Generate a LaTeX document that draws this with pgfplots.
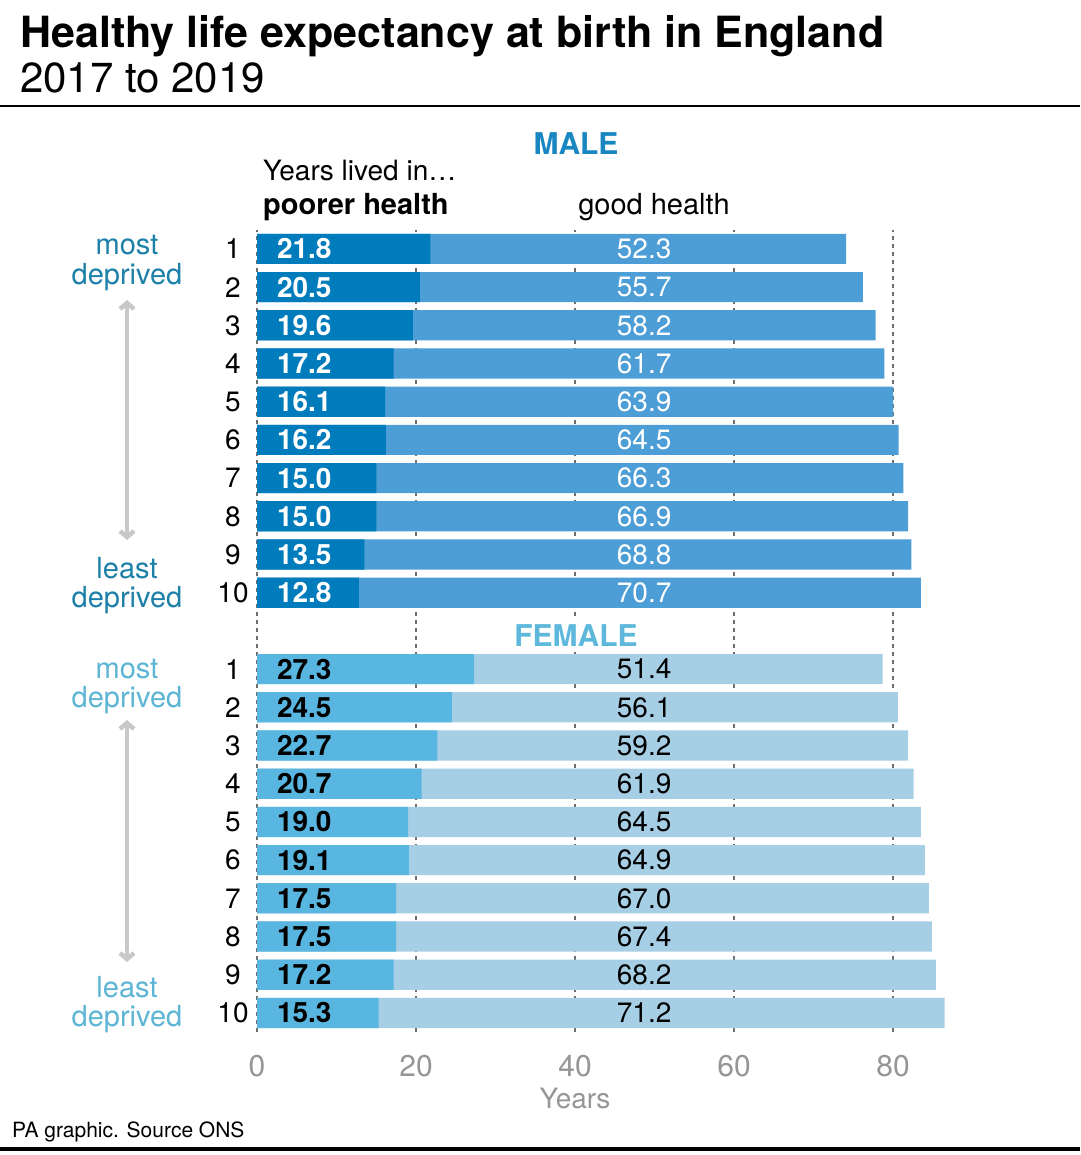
\documentclass[border=0pt]{standalone}
\usepackage{fontspec}
\setmainfont{TeX Gyre Heros}
\usepackage{pgfplots}
\pgfplotsset{compat=1.18}
\usepackage{pgfplotstable}
\usetikzlibrary{arrows.meta}

\definecolor{malepoor}{RGB}{0,123,187}
\definecolor{malegood}{RGB}{77,158,215}
\definecolor{fempoor}{RGB}{88,182,224}
\definecolor{femgood}{RGB}{166,207,230}
\definecolor{maletxt}{RGB}{28,128,168}
\definecolor{femtxt}{RGB}{92,181,213}
\definecolor{malehead}{RGB}{24,134,192}
\definecolor{femhead}{RGB}{93,184,220}
\definecolor{gridgrey}{RGB}{110,110,110}
\definecolor{ticktxt}{RGB}{150,150,150}
\definecolor{arrowgrey}{RGB}{200,200,200}

% rank 1 = most deprived
\pgfplotstableread{
rank poor good
1 21.8 52.3
2 20.5 55.7
3 19.6 58.2
4 17.2 61.7
5 16.1 63.9
6 16.2 64.5
7 15.0 66.3
8 15.0 66.9
9 13.5 68.8
10 12.8 70.7
}\male
\pgfplotstableread{
rank poor good
1 27.3 51.4
2 24.5 56.1
3 22.7 59.2
4 20.7 61.9
5 19.0 64.5
6 19.1 64.9
7 17.5 67.0
8 17.5 67.4
9 17.2 68.2
10 15.3 71.2
}\female

\newcommand\fs[1]{\fontsize{#1}{#1}\selectfont}

\begin{document}
\begin{tikzpicture}[x=1pt,y=1pt]
\useasboundingbox (0,0) rectangle (1080,-1155);
\fill[white] (0,0) rectangle (1080,-1155);

\node[anchor=base west, inner sep=0] at (20,-48) {\fs{43}\bfseries Healthy life expectancy at birth in England};
\node[anchor=base west, inner sep=0] at (20,-93) {\fs{42}2017 to 2019};
\draw[line width=2.5pt] (0,-106) -- (1080,-106);

\begin{axis}[
  at={(257pt,-1032pt)}, anchor=south west,
  scale only axis, width=715.5pt, height=802.2pt,
  xmin=0, xmax=90, ymin=0.5, ymax=21.5,
  axis line style={draw=none}, major tick length=0pt,
  xtick={0,20,...,80}, xmajorgrids,
  grid style={gridgrey, line width=1.2pt, dash pattern=on 4pt off 4pt},
  ytick={1,2,3,4,5,6,7,8,9,10,12,13,14,15,16,17,18,19,20,21},
  yticklabels={10,9,8,7,6,5,4,3,2,1,10,9,8,7,6,5,4,3,2,1},
  /pgf/number format/assume math mode=true,
  xticklabel style={font=\fs{30}, text=ticktxt, yshift=-20pt},
  yticklabel style={font=\fs{28}, text=black, anchor=center, xshift=-24pt},
  xlabel={Years}, xlabel style={font=\fs{28}, text=ticktxt, yshift=-4pt, xshift=-39.75pt},
  clip=false,
]
% male
\addplot[xbar, bar shift=0pt, bar width=0.79, fill=malegood, draw=none]
  table[x expr=\thisrow{poor}+\thisrow{good}, y expr=22-\thisrow{rank}] {\male};
\addplot[xbar, bar shift=0pt, bar width=0.79, fill=malepoor, draw=none]
  table[x=poor, y expr=22-\thisrow{rank}] {\male};
\addplot[only marks, mark=none, point meta=explicit symbolic, nodes near coords,
  every node near coord/.append style={anchor=west, inner sep=0pt, font=\fs{28}\bfseries, text=white}]
  table[x expr=2.5, y expr=22-\thisrow{rank}, meta=poor] {\male};
\addplot[only marks, mark=none, point meta=explicit symbolic, nodes near coords,
  every node near coord/.append style={anchor=center, inner sep=0pt, font=\fs{28}, text=white}]
  table[x expr=48.7, y expr=22-\thisrow{rank}, meta=good] {\male};
% female
\addplot[xbar, bar shift=0pt, bar width=0.79, fill=femgood, draw=none]
  table[x expr=\thisrow{poor}+\thisrow{good}, y expr=11-\thisrow{rank}] {\female};
\addplot[xbar, bar shift=0pt, bar width=0.79, fill=fempoor, draw=none]
  table[x=poor, y expr=11-\thisrow{rank}] {\female};
\addplot[only marks, mark=none, point meta=explicit symbolic, nodes near coords,
  every node near coord/.append style={anchor=west, inner sep=0pt, font=\fs{28}\bfseries, text=black}]
  table[x expr=2.5, y expr=11-\thisrow{rank}, meta=poor] {\female};
\addplot[only marks, mark=none, point meta=explicit symbolic, nodes near coords,
  every node near coord/.append style={anchor=center, inner sep=0pt, font=\fs{28}, text=black}]
  table[x expr=48.7, y expr=11-\thisrow{rank}, meta=good] {\female};
\end{axis}

\node[anchor=base, inner sep=0] at (576,-155) {\fs{30}\bfseries\color{malehead}MALE};
\node[anchor=base, fill=white, inner sep=4pt] at (576,-646) {\fs{30}\bfseries\color{femhead}FEMALE};
\node[anchor=base west, inner sep=0] at (263,-181) {\fs{28}Years lived in\ldots};
\node[anchor=base west, inner sep=0] at (263,-215) {\fs{29}\bfseries poorer health};
\node[anchor=base, inner sep=0] at (654,-215) {\fs{29}good health};

\begin{scope}[every node/.style={anchor=base, inner sep=0}]
\node[text=maletxt] at (127,-255) {\fs{29}most};
\node[text=maletxt] at (127,-284) {\fs{29}deprived};
\node[text=maletxt] at (127,-578) {\fs{29}least};
\node[text=maletxt] at (127,-607) {\fs{29}deprived};
\node[text=femtxt] at (127,-678) {\fs{29}most};
\node[text=femtxt] at (127,-707) {\fs{29}deprived};
\node[text=femtxt] at (127,-997) {\fs{29}least};
\node[text=femtxt] at (127,-1026) {\fs{29}deprived};
\end{scope}
\draw[arrowgrey, line width=4.5pt, {Straight Barb[length=6pt,width=14pt]}-{Straight Barb[length=6pt,width=14pt]}] (127,-300) -- (127,-540);
\draw[arrowgrey, line width=4.5pt, {Straight Barb[length=6pt,width=14pt]}-{Straight Barb[length=6pt,width=14pt]}] (127,-720) -- (127,-962);

\node[anchor=base west, inner sep=0] at (12,-1137) {\fs{21}PA graphic. Source ONS};
\draw[line width=4pt] (0,-1149) -- (1080,-1149);
\end{tikzpicture}
\end{document}
